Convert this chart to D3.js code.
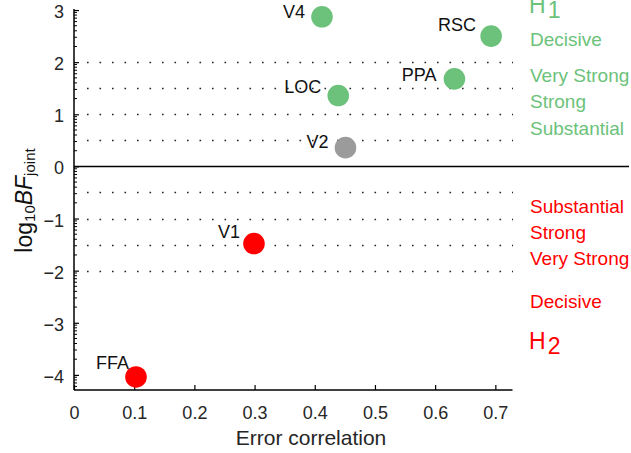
<!DOCTYPE html>
<html><head><meta charset="utf-8">
<script src="https://cdn.jsdelivr.net/npm/d3@7"></script>
<style>
html,body{margin:0;padding:0;background:#fff;}
svg{display:block;font-family:"Liberation Sans",Arial,sans-serif;}
</style></head>
<body>
<svg id="chart" width="631" height="453"></svg>
<script>
// ---- data ----
const regions = ["V4","RSC","PPA","LOC","V2","V1","FFA"];
const errorCorrelation = [0.412,0.693,0.632,0.439,0.451,0.299,0.103];
const log10BF = [2.87,2.50,1.68,1.36,0.36,-1.48,-4.04];
const support = ["H1","H1","H1","H1","none","H2","H2"];
const xTicks = [0,0.1,0.2,0.3,0.4,0.5,0.6,0.7];
const yTicks = [-4,-3,-2,-1,0,1,2,3];
const thresholds = [-2,-1.5,-1,-0.5,0.5,1,1.5,2];
const evidenceLevels = ["Substantial","Strong","Very Strong","Decisive"];
const evidenceMidH1 = [0.75,1.25,1.75,2.44];
const evidenceMidH2 = [-0.75,-1.25,-1.75,-2.57];

// ---- styles / layout ----
const colors = {H1:"#6cc27a", H2:"#ff0000", none:"#9b9b9b"};
const labelOffsets = {V4:[-17,1],RSC:[-15,-5],PPA:[-18,2],LOC:[-17,-3],V2:[-17,0],V1:[-14,-6],FFA:[-7,-8]};
const svg = d3.select("#chart");
const x = d3.scaleLinear().domain([0,0.7285]).range([74,512.5]);
const y = d3.scaleLinear().domain([-4.29,3.02]).range([390,9]);
const tickColor = "#262626";

// dotted threshold lines
svg.append("g").selectAll("line").data(thresholds).join("line")
  .attr("x1",87).attr("x2",513)
  .attr("y1",d=>Math.round(y(d))+0.5).attr("y2",d=>Math.round(y(d))+0.5)
  .attr("stroke","#222").attr("stroke-width",1.6)
  .attr("stroke-dasharray","1.6,10.9");

// zero line
svg.append("line").attr("x1",74).attr("x2",629)
  .attr("y1",y(0)).attr("y2",y(0))
  .attr("stroke","#000").attr("stroke-width",1.5);

// x axis
const gx = svg.append("g").attr("transform",`translate(0,${y.range()[0]})`)
  .call(d3.axisBottom(x).tickValues(xTicks).tickFormat(d=>d===0?"0":d3.format(".1f")(d)).tickSize(-5).tickPadding(10));
gx.select(".domain").attr("d",`M${x.range()[0]},0H${x.range()[1]}`).attr("stroke","#000").attr("stroke-width",1.5);
gx.selectAll(".tick line").attr("stroke","#000").attr("stroke-width",1.2);
gx.selectAll(".tick text").attr("font-size",18).attr("fill",tickColor)
  .attr("font-family","Liberation Sans, Arial, sans-serif").attr("dy","1.05em");

// y axis
const gy = svg.append("g").attr("transform",`translate(${x.range()[0]},0)`)
  .call(d3.axisLeft(y).tickValues(yTicks).tickFormat(d3.format("d")).tickSize(-5).tickPadding(10));
gy.select(".domain").attr("d",`M0,${y.range()[1]}V${y.range()[0]}`).attr("stroke","#000").attr("stroke-width",1.5);
gy.selectAll(".tick line").attr("stroke","#000").attr("stroke-width",1.2);
gy.selectAll(".tick text").attr("font-size",18).attr("fill",tickColor)
  .attr("font-family","Liberation Sans, Arial, sans-serif").attr("dy","0.42em");

// minor log ticks
const minor = [];
for (let k=-5;k<=3;k++) for (let m=2;m<=9;m++){ const v=k+Math.log10(m); if(v>y.domain()[0]&&v<y.domain()[1]) minor.push(v); }
svg.append("g").selectAll("line").data(minor).join("line")
  .attr("x1",x.range()[0]).attr("x2",x.range()[0]+3)
  .attr("y1",d=>y(d)).attr("y2",d=>y(d))
  .attr("stroke","#000").attr("stroke-width",1);

// axis labels
svg.append("text").attr("x",311).attr("y",445).attr("text-anchor","middle")
  .attr("font-size",21).attr("fill",tickColor).text("Error correlation");

const yl = svg.append("text").attr("transform","translate(32,200.5) rotate(-90)")
  .attr("text-anchor","middle").attr("fill","#111").attr("font-size",23);
yl.append("tspan").text("log");
yl.append("tspan").attr("font-size",15).attr("dy",3).text("10");
yl.append("tspan").attr("font-style","italic").attr("dy",-3).text("BF");
yl.append("tspan").attr("font-size",15).attr("dy",3).text("joint");

// points
const pts = regions.map((r,i)=>({r, x:errorCorrelation[i], y:log10BF[i], s:support[i]}));
svg.append("g").selectAll("circle").data(pts).join("circle")
  .attr("cx",d=>x(d.x)).attr("cy",d=>y(d.y)).attr("r",10.8)
  .attr("fill",d=>colors[d.s]);
svg.append("g").selectAll("text").data(pts).join("text")
  .attr("x",d=>x(d.x)+labelOffsets[d.r][0]).attr("y",d=>y(d.y)+labelOffsets[d.r][1])
  .attr("text-anchor","end").attr("font-size",18).attr("fill","#111").text(d=>d.r);

// evidence annotations
function evid(mids,color){
  svg.append("g").selectAll("text").data(evidenceLevels).join("text")
    .attr("x",530).attr("y",(d,i)=>y(mids[i])+7.2)
    .attr("font-size",19).attr("fill",color).text(d=>d);
}
evid(evidenceMidH1,colors.H1);
evid(evidenceMidH2,colors.H2);

function hyp(label,sub,val,color){
  const t = svg.append("text").attr("x",529).attr("y",y(val)+8.2).attr("font-size",23).attr("fill",color);
  t.append("tspan").text(label);
  t.append("tspan").attr("dx",2).attr("dy",5).text(sub);
}
hyp("H","1",3.1,colors.H1);
hyp("H","2",-3.35,colors.H2);
</script>
</body></html>
